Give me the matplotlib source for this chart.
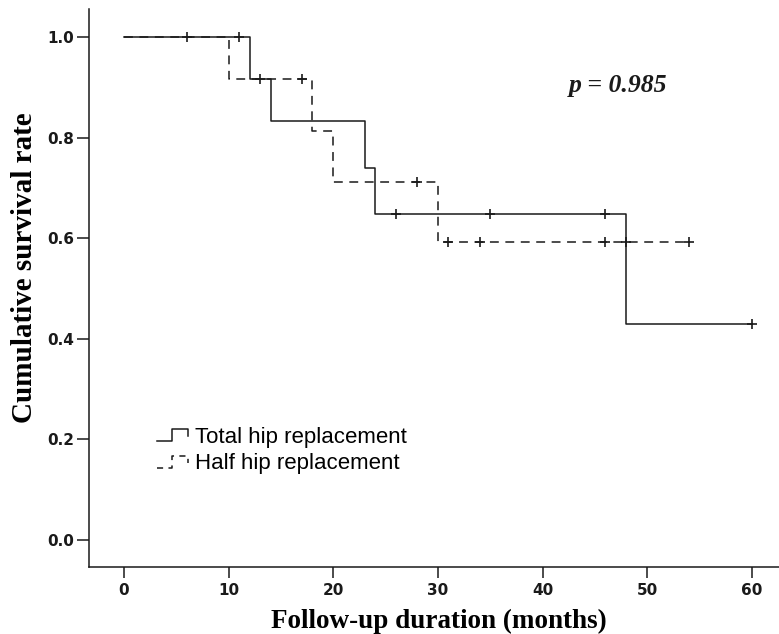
import numpy as np
import matplotlib
matplotlib.use("Agg")
import matplotlib.pyplot as plt
from matplotlib.lines import Line2D
from matplotlib.legend_handler import HandlerBase

# Kaplan-Meier steps
total_times = [0, 12, 14, 23, 24, 48, 60]
total_surv = [1.0, 0.917, 0.834, 0.740, 0.649, 0.430, 0.430]
total_censor = [6, 11, 13, 26, 35, 46, 60]

half_times = [0, 10, 18, 20, 30, 54]
half_surv = [1.0, 0.917, 0.813, 0.712, 0.593, 0.593]
half_censor = [17, 28, 31, 34, 46, 48, 54]

x_ticks = [0, 10, 20, 30, 40, 50, 60]
y_ticks = [0.0, 0.2, 0.4, 0.6, 0.8, 1.0]
p_text = "p = 0.985"

DASH = (0, (5.8, 4.3))
INK = "#1a1a1a"


def level_at(times, surv, t):
    i = np.searchsorted(times, t, side="right") - 1
    return surv[i]


class StepHandler(HandlerBase):
    # small step glyph like the SPSS legend
    def create_artists(self, legend, orig_handle, xdescent, ydescent,
                       width, height, fontsize, trans):
        xs = np.array([0.0, 0.45, 0.45, 0.92, 0.92]) * width - xdescent
        ys = np.array([0.1, 0.1, 0.85, 0.85, 0.4]) * height - ydescent
        ln = Line2D(xs, ys, color=orig_handle.get_color(),
                    linewidth=orig_handle.get_linewidth())
        if orig_handle.get_linestyle() != "-":
            ln.set_dashes((4, 3.5))
        ln.set_transform(trans)
        return [ln]


fig = plt.figure(figsize=(7.79, 6.34), dpi=100)
ax = fig.add_axes([89 / 779, (634 - 567) / 634, 690 / 779, 558 / 634])

l1, = ax.step(total_times, total_surv, where="post", color=INK, lw=1.1,
              label="Total hip replacement")
l2, = ax.step(half_times, half_surv, where="post", color=INK, lw=1.1,
              linestyle=DASH, label="Half hip replacement")

ax.plot(total_censor, [level_at(total_times, total_surv, t) for t in total_censor],
        "+", color=INK, ms=7.5, mew=1.2)
ax.plot(half_censor, [level_at(half_times, half_surv, t) for t in half_censor],
        "+", color=INK, ms=7.5, mew=1.2)

ax.set_xlim(-3.35, 62.6)
ax.set_ylim(-0.054, 1.056)
ax.set_xticks(x_ticks)
ax.set_yticks(y_ticks)
ax.set_yticklabels(["%.1f" % v for v in y_ticks])

for s in ["top", "right"]:
    ax.spines[s].set_visible(False)
for s in ["left", "bottom"]:
    ax.spines[s].set_linewidth(1.1)
    ax.spines[s].set_color(INK)

ax.tick_params(axis="both", direction="out", width=1.1, color=INK,
               labelsize=11, labelcolor=INK)
ax.tick_params(axis="y", length=9, pad=1.5)
ax.tick_params(axis="x", length=8, pad=3.5)
for lab in ax.get_xticklabels() + ax.get_yticklabels():
    lab.set_fontfamily("DejaVu Sans")
    lab.set_fontweight("bold")

ax.set_xlabel("Follow-up duration (months)", fontfamily="Liberation Serif",
              fontweight="bold", fontsize=19.5, labelpad=4)
ax.xaxis.set_label_coords(0.5065, -0.075)
ax.set_ylabel("Cumulative survival rate", fontfamily="Liberation Serif",
              fontweight="bold", fontsize=21)
ax.yaxis.set_label_coords(-0.074, 0.536)

ax.text(47.2, 0.904, p_text, fontfamily="Liberation Serif", fontweight="bold",
        fontstyle="italic", fontsize=18.5, ha="center", va="center", color=INK)

ax.legend(handles=[l1, l2], handler_map={Line2D: StepHandler()},
          loc="center left", bbox_to_anchor=(0.0986, 0.209), frameon=False,
          prop={"family": "Liberation Sans", "size": 16},
          handlelength=1.5, handletextpad=0.22, labelspacing=0.25,
          borderpad=0, borderaxespad=0)

fig.savefig("out.png", dpi=100)
